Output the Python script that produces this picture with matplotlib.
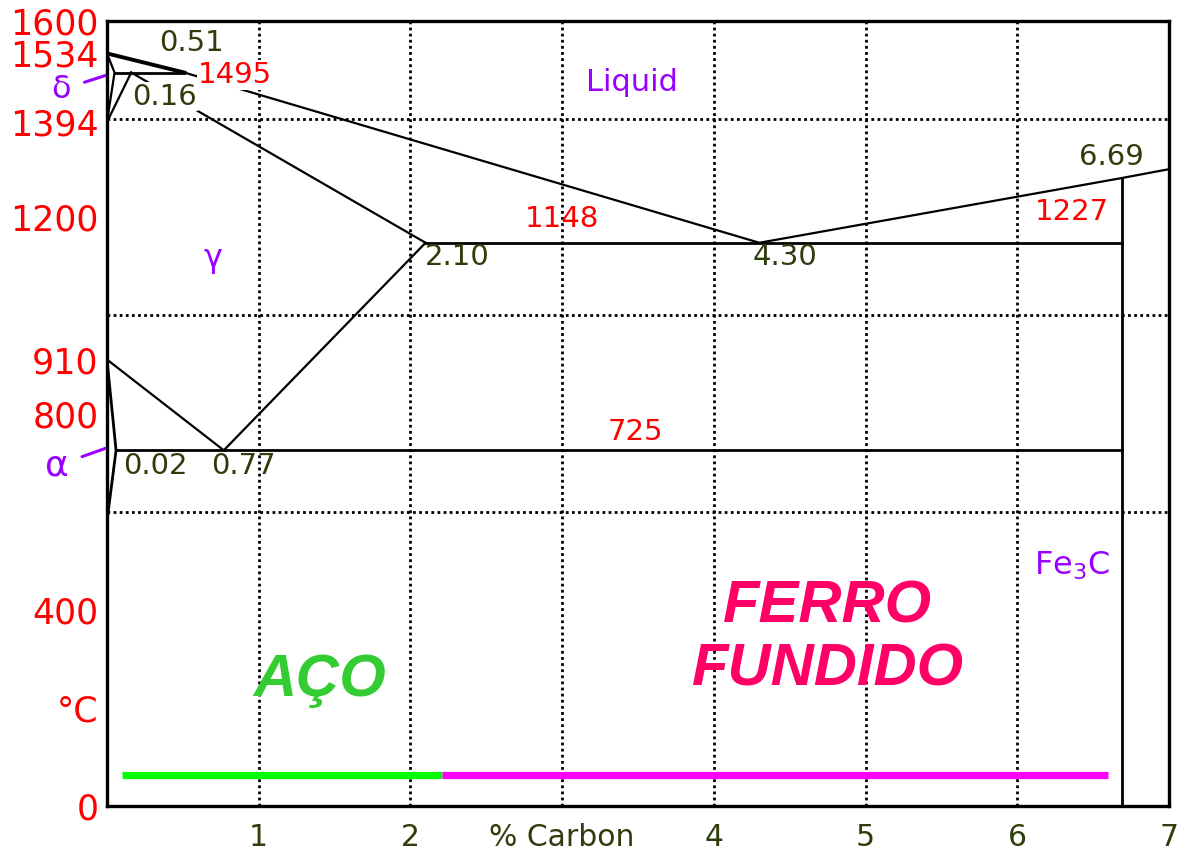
import matplotlib.pyplot as plt
from matplotlib.ticker import MultipleLocator

# Fe-C phase diagram (schematic), temperatures in degC, composition in wt% C
delta_liq_c = [0.0, 0.51]
delta_liq_t = [1534, 1495]
liquidus_c = [0.51, 4.30, 6.69, 7.0]
liquidus_t = [1495, 1148, 1280, 1298]
solidus_c = [0.16, 2.10]
solidus_t = [1495, 1148]
peritectic_c = [0.05, 0.51]
peritectic_t = [1495, 1495]
delta_solidus_c = [0.0, 0.05, 0.0]
delta_solidus_t = [1534, 1495, 1394]
gamma_delta_c = [0.0, 0.16]
gamma_delta_t = [1394, 1495]
eutectic_c = [2.10, 6.69]
eutectic_t = [1148, 1148]
fe3c_c = [6.69, 6.69]
fe3c_t = [0, 1280]
a3_c = [0.0, 0.77]
a3_t = [910, 725]
acm_c = [0.77, 2.10]
acm_t = [725, 1148]
eutectoid_c = [0.06, 6.69]
eutectoid_t = [725, 725]
ferrite_c = [0.0, 0.06, 0.0]
ferrite_t = [910, 725, 580]

# steel / cast iron composition ranges
aco_range = [0.1, 2.21]
ferro_range = [2.21, 6.6]
range_t = 63

ytick_vals = [0, 200, 400, 800, 910, 1200, 1394, 1534, 1600]
ytick_labels = ["0", "°C", "400", "800", "910", "1200", "1394", "1534", "1600"]
xtick_vals = [1, 2, 3, 4, 5, 6, 7]
xtick_labels = ["1", "2", "% Carbon", "4", "5", "6", "7"]

# point labels: (text, x, T)
red_labels = [("1495", 0.84, 1490), ("1148", 3.0, 1196),
              ("1227", 6.36, 1210), ("725", 3.48, 763)]
olive_labels = [("0.51", 0.56, 1556), ("0.16", 0.38, 1446),
                ("2.10", 2.31, 1118), ("4.30", 4.47, 1118),
                ("6.69", 6.62, 1322), ("0.02", 0.32, 694),
                ("0.77", 0.90, 694)]
# labels drawn over the lines they sit on
masked = {"1495", "0.16"}

RED = "#ff0000"
OLIVE = "#2f3d0c"
PURPLE = "#9900ff"

fig = plt.figure(figsize=(11.91, 8.51), dpi=100)
ax = fig.add_axes([0.0898, 0.0529, 0.8917, 0.9224])
ax.set_xlim(0, 7)
ax.set_ylim(0, 1600)

for c, t in [(liquidus_c, liquidus_t), (solidus_c, solidus_t),
             (delta_solidus_c, delta_solidus_t), (gamma_delta_c, gamma_delta_t),
             (a3_c, a3_t), (acm_c, acm_t)]:
    ax.plot(c, t, color="black", lw=1.6, zorder=3)
for c, t in [(peritectic_c, peritectic_t), (eutectic_c, eutectic_t),
             (fe3c_c, fe3c_t), (eutectoid_c, eutectoid_t),
             (ferrite_c, ferrite_t)]:
    ax.plot(c, t, color="black", lw=2.0, zorder=3)
ax.plot(delta_liq_c, delta_liq_t, color="black", lw=2.8, zorder=3)

ax.plot(aco_range, [range_t, range_t], color="#00ff00", lw=5.2,
        solid_capstyle="butt", zorder=3)
ax.plot(ferro_range, [range_t, range_t], color="#ff00ff", lw=5.2,
        solid_capstyle="butt", zorder=3)

# grid and axes
ax.set_xticks(xtick_vals)
ax.set_xticklabels(xtick_labels, color=OLIVE, fontsize=21.5)
ax.set_yticks(ytick_vals)
ax.set_yticklabels(ytick_labels, color=RED, fontsize=25)
ax.yaxis.set_minor_locator(MultipleLocator(200))
ax.tick_params(which="both", length=0)
ax.tick_params(axis="x", pad=12)
ax.tick_params(axis="y", pad=6)
dots = (0, (1.0, 1.2))
ax.grid(which="minor", axis="y", color="black", lw=2.0, linestyle=dots)
ax.grid(which="major", axis="x", color="black", lw=2.0, linestyle=dots)
for s in ax.spines.values():
    s.set_linewidth(2.4)
    s.set_zorder(5)

box = dict(facecolor="white", edgecolor="none", pad=0.5)
for color, labels in [(RED, red_labels), (OLIVE, olive_labels)]:
    for txt, x, t in labels:
        ax.text(x, t, txt, color=color, fontsize=21, ha="center", va="center",
                bbox=box if txt in masked else None, zorder=4)

# phase names
ax.text(3.46, 1475, "Liquid", color=PURPLE, fontsize=22, ha="center", va="center")
ax.text(0.70, 1115, "γ", color=PURPLE, fontsize=23, ha="center", va="center")
ax.text(6.36, 490, "Fe$_3$C", color=PURPLE, fontsize=23, ha="center", va="center")
ax.annotate("δ", xy=(0.0, 1490), xytext=(-0.30, 1460), color=PURPLE,
            fontsize=23, ha="center", va="center", annotation_clip=False,
            arrowprops=dict(arrowstyle="-", color=PURPLE, lw=2.2,
                            shrinkA=8, shrinkB=0))
ax.annotate("α", xy=(0.0, 730), xytext=(-0.33, 694), color=PURPLE,
            fontsize=26, ha="center", va="center", annotation_clip=False,
            arrowprops=dict(arrowstyle="-", color=PURPLE, lw=2.2,
                            shrinkA=8, shrinkB=0))

big = dict(fontsize=43, fontweight="bold", fontstyle="italic",
           family="Liberation Sans", ha="center", va="center")
ax.text(1.40, 255, "AÇO", color="#33cc33", **big)
ax.text(4.75, 405, "FERRO", color="#ff0066", **big)
ax.text(4.75, 278, "FUNDIDO", color="#ff0066", **big)

fig.savefig("out.png", dpi=100)
